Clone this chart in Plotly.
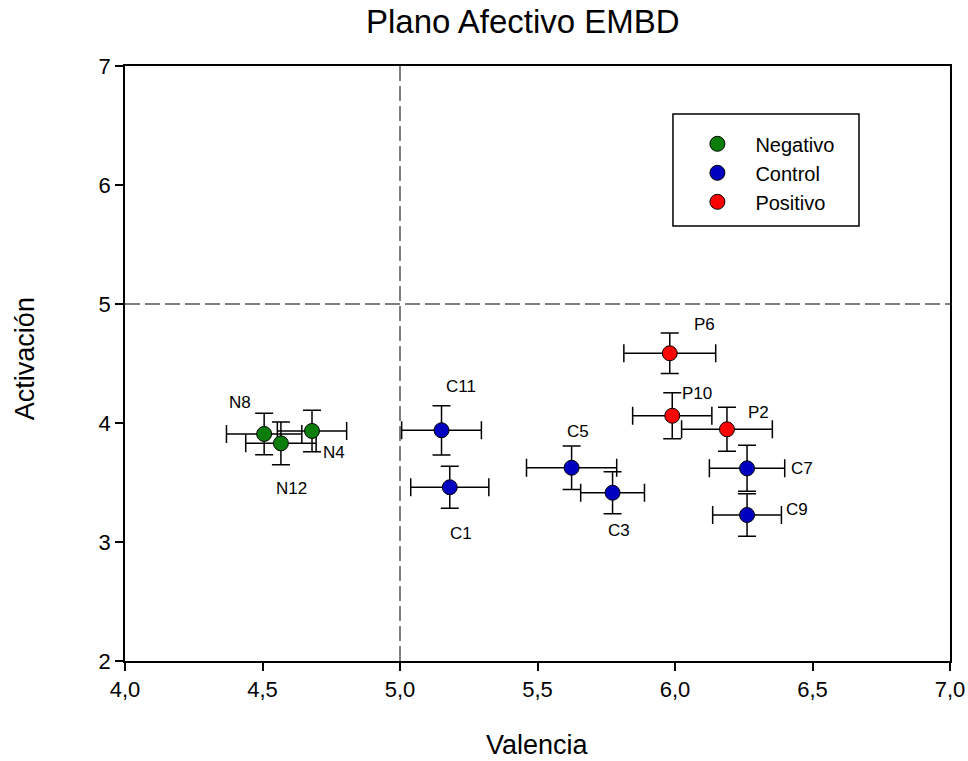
import plotly.graph_objects as go

# ---- data ----
groups = ["Negativo", "Control", "Positivo"]
colors = ["#0b7d0b", "#0000c0", "#ff0000"]

neg_labels = ["N8", "N12", "N4"]
neg_x = [4.506, 4.567, 4.680]
neg_y = [3.908, 3.829, 3.933]
neg_ex = [0.137, 0.128, 0.126]
neg_ey = [0.174, 0.180, 0.175]

ctl_labels = ["C11", "C1", "C5", "C3", "C7", "C9"]
ctl_x = [5.151, 5.181, 5.624, 5.773, 6.262, 6.262]
ctl_y = [3.939, 3.460, 3.624, 3.414, 3.619, 3.227]
ctl_ex = [0.145, 0.142, 0.164, 0.116, 0.137, 0.125]
ctl_ey = [0.207, 0.177, 0.182, 0.176, 0.193, 0.179]

pos_labels = ["P6", "P10", "P2"]
pos_x = [5.981, 5.990, 6.189]
pos_y = [4.586, 4.061, 3.947]
pos_ex = [0.167, 0.144, 0.165]
pos_ey = [0.170, 0.193, 0.185]

x_ticks = [4.0, 4.5, 5.0, 5.5, 6.0, 6.5, 7.0]
y_ticks = [2, 3, 4, 5, 6, 7]

# label offsets in pixels (style only)
label_shift = {
    "N8": (-24, 31), "N12": (11, -45), "N4": (22, -22),
    "C11": (19, 44), "C1": (11, -46), "C5": (6, 36), "C3": (6, -38),
    "C7": (55, 0), "C9": (50, 5),
    "P6": (35, 29), "P10": (25, 22), "P2": (32, 17),
}

FONT = "Liberation Sans, Arial, sans-serif"

fig = go.Figure()
series = [
    (neg_labels, neg_x, neg_y, neg_ex, neg_ey),
    (ctl_labels, ctl_x, ctl_y, ctl_ex, ctl_ey),
    (pos_labels, pos_x, pos_y, pos_ex, pos_ey),
]
for name, col, (labs, xs, ys, exs, eys) in zip(groups, colors, series):
    fig.add_trace(go.Scatter(
        x=xs, y=ys, mode="markers", name=name,
        marker=dict(size=15, color=col, line=dict(color="black", width=1)),
        error_x=dict(type="data", array=exs, color="black", thickness=1.5, width=9),
        error_y=dict(type="data", array=eys, color="black", thickness=1.5, width=9),
    ))
    for lab, xv, yv in zip(labs, xs, ys):
        dx, dy = label_shift[lab]
        fig.add_annotation(x=xv, y=yv, xref="x", yref="y", text=lab, showarrow=False,
                           xshift=dx, yshift=dy, font=dict(size=17, color="black", family=FONT))

# dashed quadrant lines
fig.add_shape(type="line", x0=5, x1=5, y0=2, y1=7, xref="x", yref="y", layer="below",
              line=dict(color="#555555", width=1.5, dash="15px,5px"))
fig.add_shape(type="line", x0=4, x1=7, y0=5, y1=5, xref="x", yref="y", layer="below",
              line=dict(color="#555555", width=1.5, dash="15px,5px"))

# legend box
fig.add_shape(type="rect", xref="paper", yref="paper", x0=0.6642, x1=0.8897, y0=0.7311, y1=0.9193,
              line=dict(color="black", width=1.5), fillcolor="rgba(0,0,0,0)")

# titles
fig.add_annotation(text="Plano Afectivo EMBD", xref="paper", yref="paper", x=0.4824, y=1.074,
                   showarrow=False, xanchor="center", yanchor="middle",
                   font=dict(size=33, color="black", family=FONT))
fig.add_annotation(text="Valencia", xref="paper", yref="paper", x=0.5, y=-0.141,
                   showarrow=False, xanchor="center", yanchor="middle",
                   font=dict(size=27, color="black", family=FONT))
fig.add_annotation(text="Activación", xref="paper", yref="paper", x=-0.121, y=0.5076,
                   showarrow=False, xanchor="center", yanchor="middle", textangle=-90,
                   font=dict(size=27, color="black", family=FONT))

fig.update_layout(
    width=968, height=761, autosize=False,
    margin=dict(l=125, r=18, t=66, b=100, autoexpand=False),
    paper_bgcolor="white", plot_bgcolor="white",
    separators=",.",
    font=dict(family=FONT, color="black"),
    showlegend=True,
    legend=dict(x=0.672, y=0.902, xanchor="left", yanchor="top", itemwidth=66,
                bgcolor="rgba(0,0,0,0)", borderwidth=0,
                font=dict(size=20, color="black", family=FONT)),
    xaxis=dict(range=[4, 7], tickvals=x_ticks, tickformat=".1f", automargin=False,
               ticks="outside", ticklen=8, tickwidth=1.5, tickcolor="black",
               showline=True, linecolor="black", linewidth=1.5, mirror=True,
               showgrid=False, zeroline=False,
               tickfont=dict(size=22, color="black", family=FONT)),
    yaxis=dict(range=[2, 7], tickvals=y_ticks, automargin=False,
               ticks="outside", ticklen=8, tickwidth=1.5, tickcolor="black",
               showline=True, linecolor="black", linewidth=1.5, mirror=True,
               showgrid=False, zeroline=False,
               tickfont=dict(size=22, color="black", family=FONT)),
)

fig.write_html("out.html",
               config={"responsive": False, "displayModeBar": False},
               post_script="document.body.style.margin='0';document.body.style.overflow='hidden';")
